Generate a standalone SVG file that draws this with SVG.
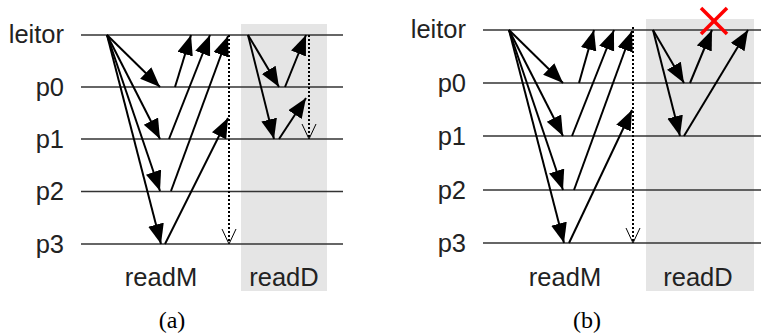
<svg xmlns="http://www.w3.org/2000/svg" width="761" height="335" viewBox="0 0 761 335">
<style>
.lbl{font-family:"Liberation Sans",Arial,sans-serif;font-size:25.5px;fill:#222}
.cap{font-family:"Liberation Serif","Times New Roman",serif;font-size:24px;fill:#000;text-anchor:middle}
.hl{stroke:#333;stroke-width:1.3;fill:none}
.ar{stroke:#000;stroke-width:2;fill:none;marker-end:url(#ah)}
.dt{stroke:#000;stroke-width:2;stroke-dasharray:2,2;fill:none}
.oa{stroke:#000;stroke-width:1;fill:none}
.bg{fill:#e5e5e5}
</style>
<defs>
<marker id="ah" markerUnits="userSpaceOnUse" markerWidth="22" markerHeight="18" refX="20" refY="8" orient="auto">
<path d="M0,0 L20,8 L0,16 Z" fill="#000"/>
</marker>
</defs>
<!-- panel a -->
<g id="panel-a">
<rect id="a-readD-bg" class="bg" x="241" y="24" width="86" height="267"/>
<g id="a-lines">
<line class="hl" x1="81" y1="35" x2="343" y2="35"/>
<line class="hl" x1="81" y1="87" x2="343" y2="87"/>
<line class="hl" x1="81" y1="139" x2="343" y2="139"/>
<line class="hl" x1="81" y1="191.5" x2="343" y2="191.5"/>
<line class="hl" x1="81" y1="244" x2="343" y2="244"/>
</g>
<g id="a-labels" class="lbl" text-anchor="end">
<text x="64" y="43">leitor</text>
<text x="64" y="96">p0</text>
<text x="64" y="148">p1</text>
<text x="64" y="200">p2</text>
<text x="64" y="253">p3</text>
</g>
<g id="a-connectors">
<line class="ar" x1="107" y1="35" x2="160" y2="87"/>
<line class="ar" x1="107" y1="35" x2="160" y2="139"/>
<line class="ar" x1="107" y1="35" x2="160" y2="191"/>
<line class="ar" x1="107" y1="35" x2="161" y2="244"/>
<line class="ar" x1="175" y1="87" x2="191" y2="35"/>
<line class="ar" x1="169" y1="139" x2="210" y2="35"/>
<line class="ar" x1="171" y1="191" x2="228" y2="36"/>
<line class="ar" x1="165" y1="244" x2="228" y2="118"/>
<line class="dt" x1="229" y1="35" x2="229" y2="243"/>
<path class="oa" d="M222,229 L229,244 L236,229"/>
<line class="ar" x1="248" y1="35" x2="279" y2="87"/>
<line class="ar" x1="248" y1="35" x2="274" y2="139"/>
<line class="ar" x1="285" y1="87" x2="306" y2="35"/>
<line class="ar" x1="279" y1="139" x2="306" y2="98"/>
<line class="dt" x1="309" y1="35" x2="309" y2="138"/>
<path class="oa" d="M302,124 L309,139 L316,124"/>
</g>
<g id="a-captions">
<text class="lbl" x="161" y="286" text-anchor="middle">readM</text>
<text class="lbl" x="284" y="286" text-anchor="middle">readD</text>
<text class="cap" x="172" y="328">(a)</text>
</g>
</g>
<!-- panel b -->
<g id="panel-b">
<rect id="b-readD-bg" class="bg" x="646" y="19" width="108" height="272"/>
<g id="b-lines">
<line class="hl" x1="483" y1="30" x2="761" y2="30"/>
<line class="hl" x1="483" y1="83" x2="761" y2="83"/>
<line class="hl" x1="483" y1="136" x2="761" y2="136"/>
<line class="hl" x1="483" y1="190" x2="761" y2="190"/>
<line class="hl" x1="483" y1="243" x2="761" y2="243"/>
</g>
<g id="b-labels" class="lbl" text-anchor="end">
<text x="466" y="38">leitor</text>
<text x="466" y="92">p0</text>
<text x="466" y="145">p1</text>
<text x="466" y="199">p2</text>
<text x="466" y="252">p3</text>
</g>
<g id="b-connectors">
<line class="ar" x1="509" y1="30" x2="563" y2="83"/>
<line class="ar" x1="509" y1="30" x2="563" y2="136"/>
<line class="ar" x1="509" y1="30" x2="563" y2="190"/>
<line class="ar" x1="509" y1="30" x2="564" y2="243"/>
<line class="ar" x1="579" y1="83" x2="594" y2="30"/>
<line class="ar" x1="572" y1="136" x2="614" y2="30"/>
<line class="ar" x1="574" y1="190" x2="632" y2="31"/>
<line class="ar" x1="569" y1="243" x2="632" y2="110"/>
<line class="dt" x1="633" y1="27" x2="633" y2="242"/>
<path class="oa" d="M626,228 L633,243 L640,228"/>
<line class="ar" x1="653" y1="30" x2="684" y2="83"/>
<line class="ar" x1="653" y1="30" x2="680" y2="136"/>
<line class="ar" x1="690" y1="83" x2="712" y2="30"/>
<line class="ar" x1="684" y1="136" x2="748" y2="30"/>
</g>
<g id="b-cross" stroke="#f00" stroke-width="3.5">
<line x1="701" y1="8" x2="727" y2="34"/>
<line x1="727" y1="8" x2="701" y2="34"/>
</g>
<g id="b-captions">
<text class="lbl" x="565" y="286" text-anchor="middle">readM</text>
<text class="lbl" x="698" y="286" text-anchor="middle">readD</text>
<text class="cap" x="587" y="328">(b)</text>
</g>
</g>
</svg>
